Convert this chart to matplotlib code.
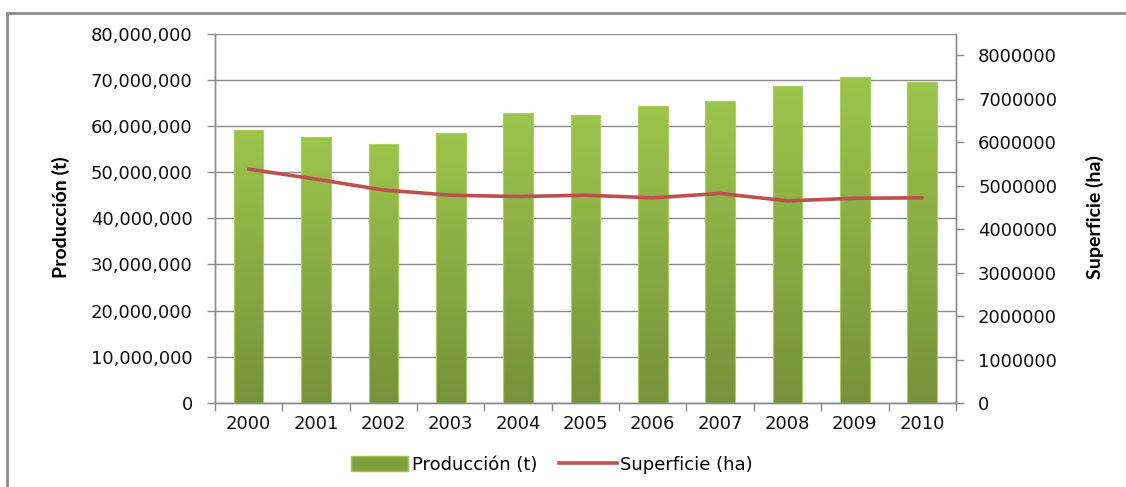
import matplotlib.pyplot as plt
import numpy as np
from matplotlib.lines import Line2D
from matplotlib.patches import Patch
from matplotlib.colors import LinearSegmentedColormap
from matplotlib.ticker import FuncFormatter, MultipleLocator

# Data
years = ["2000", "2001", "2002", "2003", "2004", "2005", "2006", "2007", "2008", "2009", "2010"]
produccion = [59.1e6, 57.7e6, 56.1e6, 58.5e6, 62.7e6, 62.4e6, 64.2e6, 65.4e6, 68.7e6, 70.5e6, 69.4e6]
superficie = [5.38e6, 5.15e6, 4.90e6, 4.78e6, 4.75e6, 4.78e6, 4.72e6, 4.82e6, 4.65e6, 4.71e6, 4.72e6]

grid_col = "#8c8c8c"
line_col = "#c0504d"

fig = plt.figure(figsize=(11.26, 4.87), dpi=100)
ax = fig.add_axes([0.1909, 0.1725, 0.658, 0.7587])
ax2 = ax.twinx()

x = np.arange(len(years))
bars = ax.bar(x, produccion, width=0.44, color="none", edgecolor="#a9cf62", linewidth=0.8, zorder=3)

# vertical gradient fill for each bar (light green top, darker bottom)
grad = np.linspace(1, 0, 256).reshape(-1, 1)
cmap = LinearSegmentedColormap.from_list("g", ["#76923b", "#9cc54c"])
for b in bars:
    x0, w, h = b.get_x(), b.get_width(), b.get_height()
    im = ax.imshow(grad, cmap=cmap, aspect="auto", extent=(x0, x0 + w, 0, h), zorder=2)
    im.set_clip_path(b)

ax.set_xlim(-0.5, len(years) - 0.5)
ax.set_ylim(0, 80e6)
ax.yaxis.set_major_locator(MultipleLocator(10e6))
ax.yaxis.set_major_formatter(FuncFormatter(lambda v, p: f"{int(v):,}"))
ax.grid(axis="y", color=grid_col, linewidth=1.0, zorder=0)
ax.set_axisbelow(True)

ax.set_xticks(x)
ax.set_xticklabels(years)
ax.set_xticks(np.arange(-0.5, len(years)), minor=True)
ax.tick_params(axis="x", which="major", length=0, pad=9, labelsize=13, labelcolor="#111111")
ax.tick_params(axis="x", which="minor", length=6, color=grid_col, width=1)
ax.tick_params(axis="y", length=6, color=grid_col, width=1, pad=10, labelsize=13, labelcolor="#111111")

ax2.plot(x, superficie, color=line_col, linewidth=2.6, solid_joinstyle="round",
         solid_capstyle="round", zorder=4)
ax2.set_ylim(0, 8.5e6)
ax2.yaxis.set_major_locator(MultipleLocator(1e6))
ax2.yaxis.set_major_formatter(FuncFormatter(lambda v, p: f"{int(v)}"))
ax2.tick_params(axis="y", length=6, color=grid_col, width=1, pad=10, labelsize=13, labelcolor="#111111")

for a in (ax, ax2):
    for side in ("left", "right", "bottom"):
        a.spines[side].set_color(grid_col)
        a.spines[side].set_linewidth(1.0)
    a.spines["top"].set_visible(False)

title_font = dict(family=["Lato", "DejaVu Sans"], fontsize=14, fontweight="bold")
fig.text(0.054, 0.555, "Producción (t)", rotation=90, ha="center", va="center", **title_font)
fig.text(0.972, 0.555, "Superficie (ha)", rotation=90, ha="center", va="center", **title_font)

handles = [Patch(facecolor="#7f9f3f", edgecolor="#9cc54c"),
           Line2D([0], [0], color=line_col, linewidth=2.6)]
fig.legend(handles, ["Producción (t)", "Superficie (ha)"], loc="center",
           bbox_to_anchor=(0.49, 0.045), ncol=2, frameon=False, fontsize=13,
           handlelength=3.2, handleheight=0.9, handletextpad=0.2, columnspacing=1.2)

# outer chart border (left and top edges visible)
fig.add_artist(Line2D([0.0062, 0.0062], [0, 0.973], transform=fig.transFigure, color="#8c8c8c", linewidth=2))
fig.add_artist(Line2D([0.0062, 1.0], [0.973, 0.973], transform=fig.transFigure, color="#8c8c8c", linewidth=2))

fig.savefig("out.png", dpi=100)
